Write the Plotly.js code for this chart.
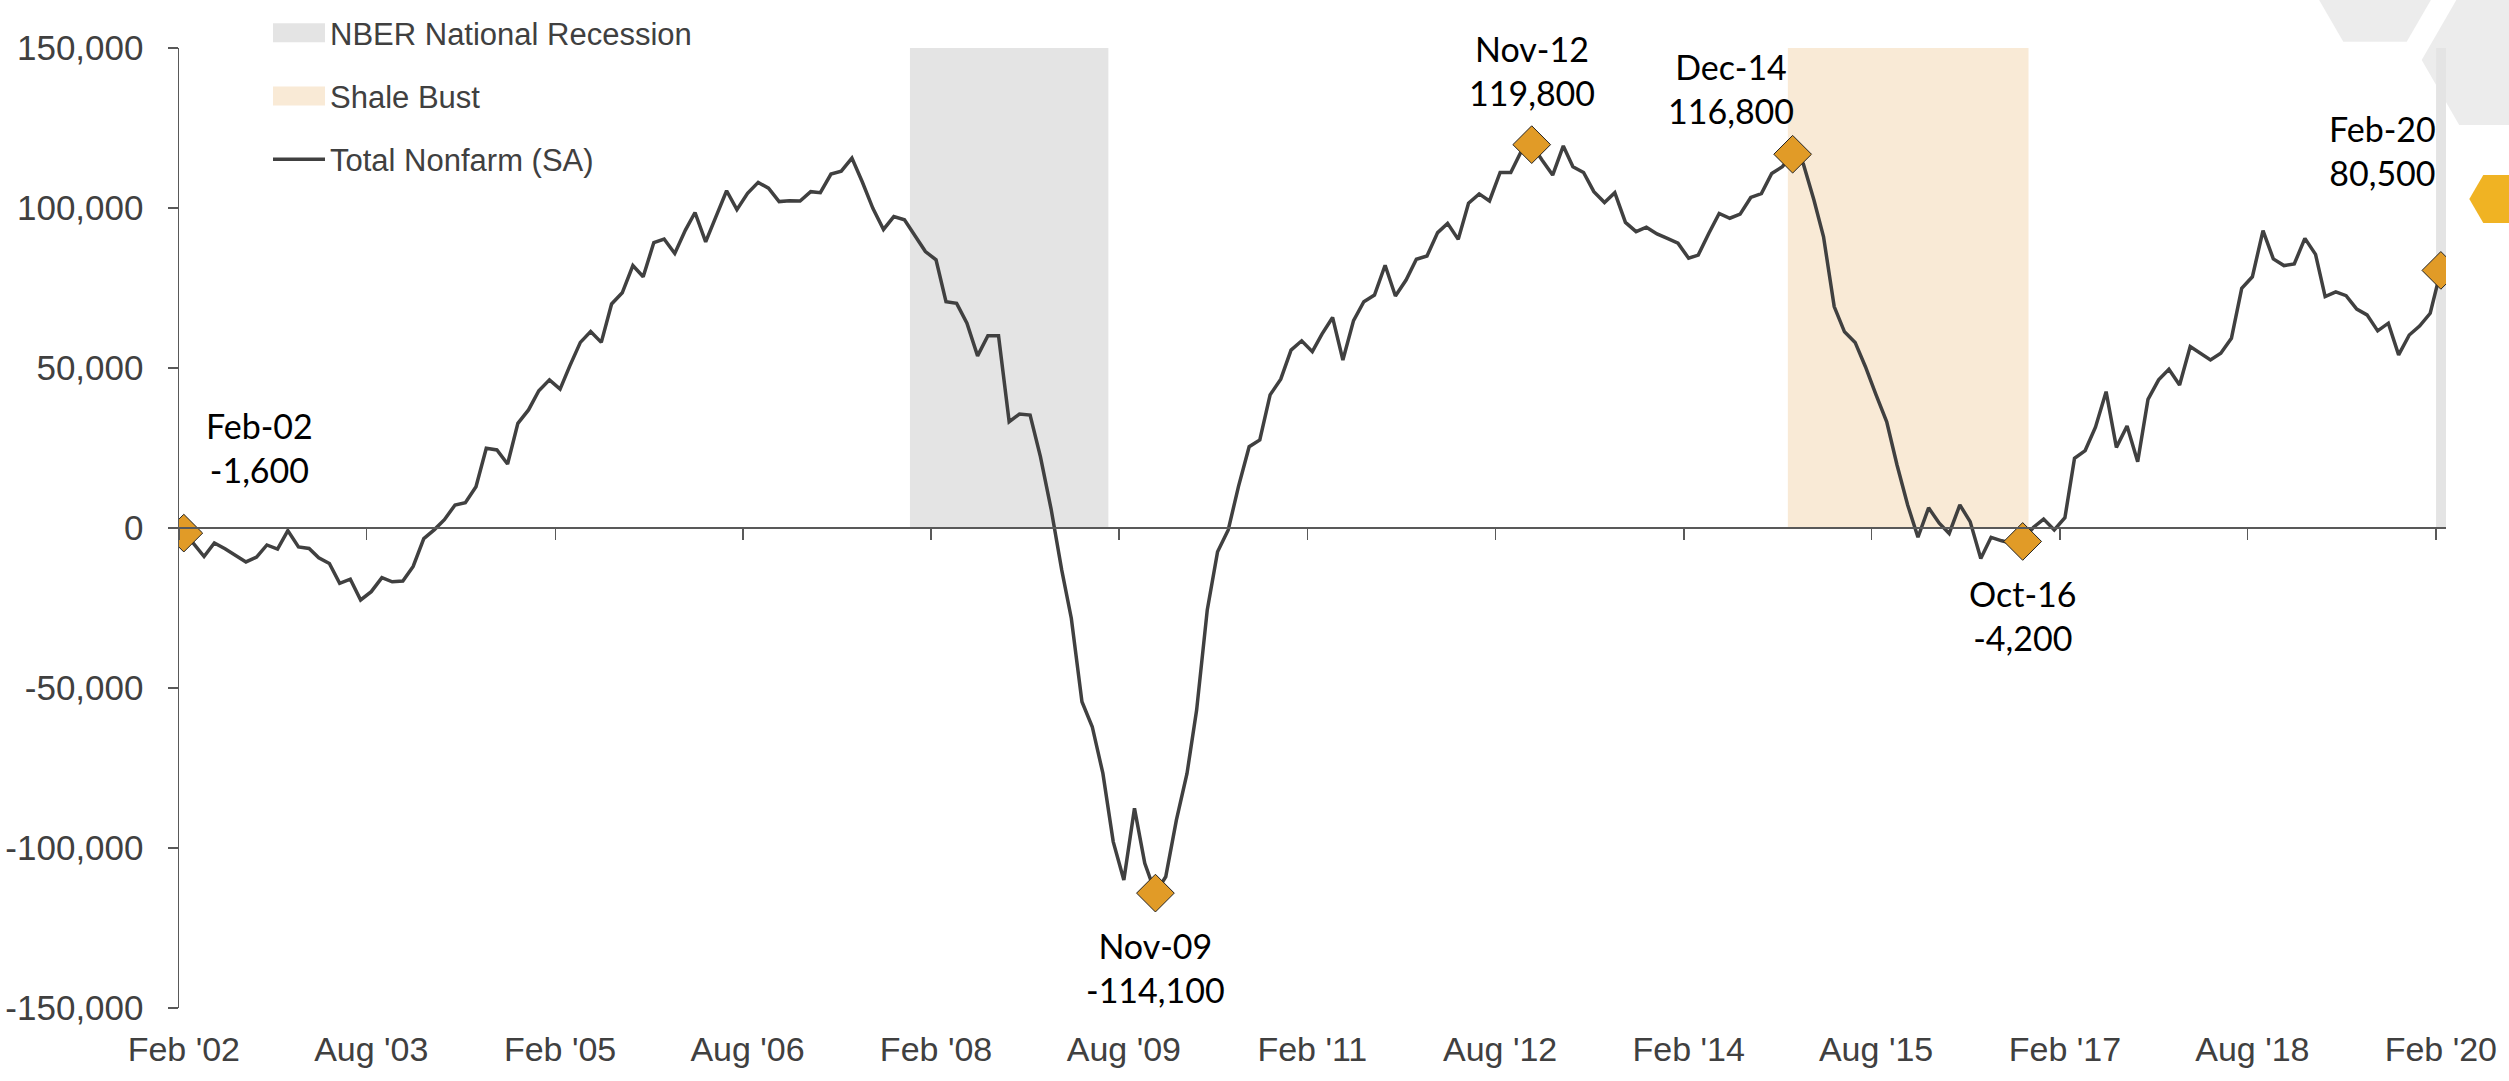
<!DOCTYPE html>
<html>
<head>
<meta charset="utf-8">
<script src="https://cdn.plot.ly/plotly-3.0.1.min.js"></script>
<style>
  html, body { margin: 0; padding: 0; background: #ffffff; }
  #chart { width: 2509px; height: 1081px; }
</style>
</head>
<body>
<div id="chart"></div>
<script>
// ---------------- DATA ----------------
// Monthly series, Feb 2002 .. Feb 2020 (change in jobs, SA)
const seriesStart = [2002, 2]; // year, month of first value
const nonfarm = [
  // 2002 (Feb-Dec)
  -1600, -4800, -8900, -4700, -6500, -8400, -10600, -9100, -5300, -6600, -800,
  // 2003
  -5900, -6400, -9300, -11100, -17300, -16000, -22500, -19900, -15500, -16800, -16600, -12000,
  // 2004
  -3300, -500, 2600, 7200, 7900, 12900, 24900, 24400, 20000, 32700, 36900, 42900,
  // 2005
  46300, 43400, 50600, 58000, 61400, 58000, 70000, 73500, 82000, 78500, 89200, 90300,
  // 2006
  85800, 93100, 98600, 89400, 97300, 105400, 99500, 104600, 108000, 106200, 102000, 102300,
  // 2007
  102200, 105100, 104800, 110600, 111500, 115600, 108200, 99900, 93300, 97300, 96300, 91600,
  // 2008
  86400, 83800, 70700, 70200, 64000, 53800, 60100, 60100, 33200, 35600, 35300, 22300,
  // 2009
  6000, -13100, -28200, -54300, -62100, -76700, -98000, -110000, -87600, -104800, -114100, -109000,
  // 2010
  -91300, -76700, -56900, -25600, -7400, -600, 13000, 25400, 27500, 41600, 46500, 55600,
  // 2011
  58500, 55100, 60600, 65800, 52500, 64800, 70700, 72800, 82100, 72500, 77500, 84000,
  // 2012
  85000, 92300, 95200, 90200, 101500, 104400, 102200, 111100, 111100, 117600, 119800, 115000,
  // 2013
  110300, 119400, 112900, 111100, 105100, 101700, 104800, 95500, 92600, 94000, 91900, 90500,
  // 2014
  89000, 84300, 85300, 92100, 98300, 96800, 98100, 103300, 104500, 110800, 112900, 116800,
  // 2015
  113800, 102500, 91000, 69200, 61300, 58000, 50400, 41600, 33200, 19700, 7200, -2900,
  // 2016
  6300, 1500, -1700, 7200, 2000, -9500, -2900, -4000, -4800, -4200, 200, 2800,
  // 2017
  -600, 3200, 21800, 24200, 31500, 42600, 25200, 31900, 20700, 40200, 46300, 49600,
  // 2018
  44700, 56700, 54600, 52500, 54600, 59300, 74900, 78500, 92900, 84100, 82000, 82500,
  // 2019
  90500, 85500, 72300, 73800, 72600, 68400, 66600, 61600, 64000, 54100, 60300, 63100,
  // 2020 (Jan-Feb)
  67100, 80500
];

// Highlighted points
const highlightMonths = ['2002-02', '2009-11', '2012-11', '2014-12', '2016-10', '2020-02'];
const highlightLabels = ['Feb-02', 'Nov-09', 'Nov-12', 'Dec-14', 'Oct-16', 'Feb-20'];
const highlightValues = [-1600, -114100, 119800, 116800, -4200, 80500];

// Shaded periods (first month, month after last)
const recessionStart = ['2007-12-01', '2020-02-01'];
const recessionEnd   = ['2009-07-01', '2020-03-01'];
const shaleStart = ['2014-12-01'];
const shaleEnd   = ['2016-11-01'];
const shadeTop = 150000;

// Axis ticks
const xTickMonths = ['2002-02', '2003-08', '2005-02', '2006-08', '2008-02', '2009-08',
                     '2011-02', '2012-08', '2014-02', '2015-08', '2017-02', '2018-08', '2020-02'];
const xTickText = ["Feb '02", "Aug '03", "Feb '05", "Aug '06", "Feb '08", "Aug '09",
                   "Feb '11", "Aug '12", "Feb '14", "Aug '15", "Feb '17", "Aug '18", "Feb '20"];
const yTickVals = [-150000, -100000, -50000, 0, 50000, 100000, 150000];

// ---------------- BUILD ----------------
function pad(n) { return (n < 10 ? '0' : '') + n; }
const xDates = nonfarm.map((v, i) => {
  const m0 = seriesStart[1] - 1 + i;
  const y = seriesStart[0] + Math.floor(m0 / 12);
  const m = (m0 % 12) + 1;
  return y + '-' + pad(m) + '-15';
});
function fmt(v) { return (v < 0 ? '-' : '') + Math.abs(v).toLocaleString('en-US'); }

function toMs(s) { const p = s.split('-').map(Number); return Date.UTC(p[0], p[1] - 1, p[2]); }
function shadeTrace(starts, ends, name, color) {
  const xs = [], ws = [], ys = [];
  starts.forEach((s, i) => {
    const a = toMs(s), b = toMs(ends[i]);
    xs.push((a + b) / 2); ws.push(b - a); ys.push(shadeTop);
  });
  return {
    type: 'bar', x: xs, y: ys, width: ws, name: name,
    marker: { color: color, line: { width: 0 } },
    hoverinfo: 'skip', legendgroup: name
  };
}

const tickFontX = { family: 'Liberation Sans, Arial, sans-serif', size: 34, color: '#404040' };
const tickFontY = { family: 'Liberation Sans, Arial, sans-serif', size: 35, color: '#404040' };
const annFont = { family: 'Lato, "Noto Sans", sans-serif', size: 34, color: '#000000' };

const traces = [
  shadeTrace(recessionStart, recessionEnd, 'NBER National Recession', '#e4e4e4'),
  shadeTrace(shaleStart, shaleEnd, 'Shale Bust', '#f9ead6'),
  {
    type: 'scatter', mode: 'lines', x: xDates, y: nonfarm, name: 'Total Nonfarm (SA)',
    line: { color: '#404040', width: 3.5 }, legendgroup: 'tnf', hoverinfo: 'skip'
  },
  {
    type: 'scatter', mode: 'markers', x: highlightMonths.map(m => m + '-15'), y: highlightValues,
    marker: { symbol: 'diamond', size: 29, color: '#e19b27', line: { color: '#222222', width: 1 } },
    showlegend: false, hoverinfo: 'skip'
  },
  {
    // carrier for the zero-line axis (ticks at month boundaries)
    type: 'scatter', mode: 'markers', x: [xDates[0]], y: [0], xaxis: 'x2',
    marker: { opacity: 0 }, showlegend: false, hoverinfo: 'skip'
  }
];

// Label offsets (style): [xshift, yshift]
const labelOffsets = [[76, 86], [0, -74], [0, 74], [-62, 66], [0, -74], [-58, 120]];
const annotations = highlightMonths.map((m, i) => ({
  x: m + '-15', y: highlightValues[i], xref: 'x', yref: 'y',
  text: highlightLabels[i] + '<br>' + fmt(highlightValues[i]),
  showarrow: false, xanchor: 'center', yanchor: 'middle',
  xshift: labelOffsets[i][0], yshift: labelOffsets[i][1],
  font: annFont, align: 'center'
}));

// decorative hexagons (pixel coords -> paper)
const L = 179, R = 63, T = 48, B = 73, W = 2509, H = 1081;
const PW = W - L - R, PH = H - T - B;
function px(x) { return ((x - L) / PW).toFixed(5); }
function py(y) { return ((H - B - y) / PH).toFixed(5); }
function poly(pts) { return 'M' + pts.map(p => px(p[0]) + ',' + py(p[1])).join('L') + 'Z'; }
const shapes = [
  { type: 'path', xref: 'paper', yref: 'paper', layer: 'below', line: { width: 0 }, fillcolor: '#ececec',
    path: poly([[2311.6, -13], [2343.3, 41.7], [2406.7, 41.7], [2438.4, -13], [2420, -60], [2330, -60]]) },
  { type: 'path', xref: 'paper', yref: 'paper', layer: 'below', line: { width: 0 }, fillcolor: '#ececec',
    path: poly([[2421.7, 60], [2459.2, -5], [2534.2, -5], [2571.7, 60], [2534.2, 125], [2459.2, 125]]) },
  { type: 'path', xref: 'paper', yref: 'paper', layer: 'above', line: { width: 0 }, fillcolor: '#f0b323',
    path: poly([[2469.3, 199], [2483.3, 175], [2511.2, 175], [2525.2, 199], [2511.2, 223], [2483.3, 223]]) }
];

const layout = {
  width: W, height: H,
  margin: { l: L, r: R, t: T, b: B, pad: 0, autoexpand: false },
  paper_bgcolor: '#ffffff', plot_bgcolor: 'rgba(0,0,0,0)',
  barmode: 'overlay', showlegend: true,
  xaxis: {
    type: 'date', range: ['2002-02-01', '2020-03-01'],
    tickvals: xTickMonths.map(m => m + '-15'), ticktext: xTickText,
    showline: false, ticks: '', showgrid: false, zeroline: false,
    tickfont: tickFontX, ticklabelstandoff: 18, automargin: false, fixedrange: true
  },
  xaxis2: {
    type: 'date', overlaying: 'x', anchor: 'free', position: 0.5,
    range: ['2002-02-01', '2020-03-01'],
    tickvals: xTickMonths.map(m => m + '-01'), showticklabels: false,
    showline: true, linecolor: '#595959', linewidth: 2,
    ticks: 'outside', ticklen: 11, tickwidth: 1.5, tickcolor: '#595959',
    showgrid: false, zeroline: false, automargin: false, fixedrange: true
  },
  yaxis: {
    range: [-150000, 150000], tickvals: yTickVals, ticktext: yTickVals.map(fmt),
    showline: true, linecolor: '#595959', linewidth: 1.5,
    ticks: 'outside', ticklen: 10, tickwidth: 1.5, tickcolor: '#595959',
    showgrid: false, zeroline: false, tickfont: tickFontY,
    ticklabelstandoff: 17, automargin: false, fixedrange: true
  },
  legend: {
    xref: 'container', yref: 'container',
    x: 268 / W, xanchor: 'left', y: 1 - 6 / H, yanchor: 'top',
    font: { family: 'Liberation Sans, Arial, sans-serif', size: 31, color: '#404040' },
    bgcolor: 'rgba(0,0,0,0)', traceorder: 'grouped', tracegroupgap: 20, itemwidth: 52
  },
  shapes: shapes,
  annotations: annotations
};

function widenSwatches() {
  // widen the shaded-period legend swatches to match the line swatch
  document.querySelectorAll('#chart .legend .legendpoints path').forEach(p => {
    const d = p.getAttribute('d') || '';
    if (/^M6,6H-6V-6H6Z$/i.test(d.replace(/\s/g, '')) || p.classList.contains('legendbar')) {
      p.setAttribute('d', 'M26,9.5H-26V-9.5H26Z');
    }
  });
}

Plotly.newPlot('chart', traces, layout, { displayModeBar: false, staticPlot: true }).then(gd => {
  widenSwatches();
  gd.on('plotly_afterplot', widenSwatches);
  setTimeout(widenSwatches, 50);
  setTimeout(widenSwatches, 400);
});
</script>
</body>
</html>
